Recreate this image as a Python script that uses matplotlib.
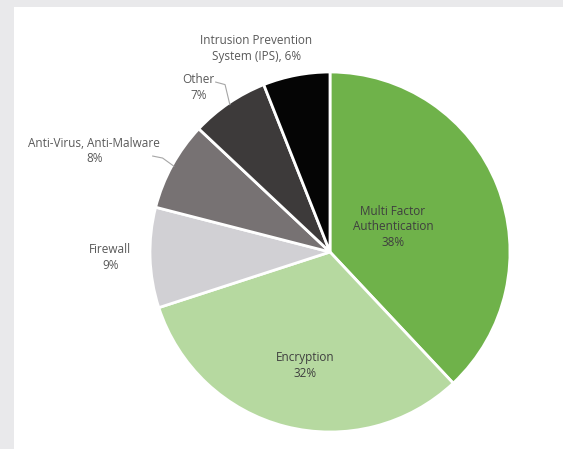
import numpy as np
import matplotlib
matplotlib.use("Agg")
from matplotlib import pyplot as plt
import matplotlib.patches as mpatches

categories = ["Multi Factor\nAuthentication", "Encryption", "Firewall",
              "Anti-Virus, Anti-Malware", "Other", "Intrusion Prevention\nSystem (IPS)"]
shares = [38, 32, 9, 8, 7, 6]
colors = ["#6fb24a", "#b6d9a0", "#d1d0d4", "#777273", "#3d3a3a", "#050505"]

# label layout (data units, pie radius = 1)
label_pos = [(0.35, 0.14), (-0.14, -0.63), (-1.22, -0.03),
             (-1.31, 0.56), (-0.73, 0.915), (-0.41, 1.13)]
label_sep = ["\n", "\n", "\n", "\n", "\n", ", "]
inside = [True, True, False, False, False, False]

fig = plt.figure(figsize=(5.63, 4.49), dpi=100)
fig.patch.set_facecolor("#e9e9eb")
# white panel like the screenshot
fig.patches.append(mpatches.Rectangle((14 / 563, 0), 1, 1 - 7 / 449,
                                      transform=fig.transFigure,
                                      facecolor="white", edgecolor="none", zorder=-5))

ax = fig.add_axes([0, 0, 1, 1])
ax.set_facecolor("none")
ax.set_zorder(1)

wedges, _ = ax.pie(shares, colors=colors, startangle=90, counterclock=False,
                   radius=1.0, wedgeprops=dict(edgecolor="white", linewidth=2))

for i, (cat, val) in enumerate(zip(categories, shares)):
    x, y = label_pos[i]
    ax.text(x, y, f"{cat}{label_sep[i]}{val}%", ha="center", va="center",
            fontsize=8.5, family="Open Sans", linespacing=1.25,
            color="#3f3f3f" if inside[i] else "#595959")

# leader lines for Anti-Virus and Other
def edge_point(w):
    mid = np.deg2rad((w.theta1 + w.theta2) / 2)
    return np.cos(mid), np.sin(mid)

leaders = {3: [(-0.985, 0.533), (-0.93, 0.522)], 4: [(-0.635, 0.944), (-0.583, 0.93)]}
for i, pts in leaders.items():
    ex, ey = edge_point(wedges[i])
    xs = [p[0] for p in pts] + [ex * 0.99]
    ys = [p[1] for p in pts] + [ey * 0.99]
    ax.plot(xs, ys, color="#a6a6a6", linewidth=0.8)

ax.set_aspect("auto")
ax.set_xlim(-330 / 180, (563 - 330) / 180)
ax.set_ylim((252 - 449) / 180, 252 / 180)
ax.axis("off")

fig.savefig("out.png", dpi=100)
